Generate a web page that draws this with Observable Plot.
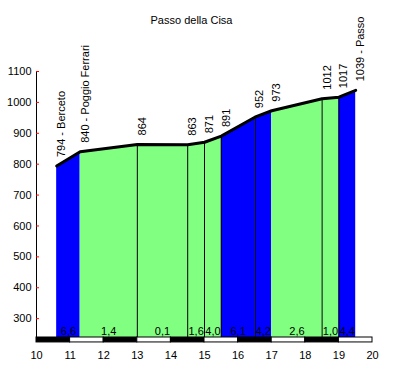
<!DOCTYPE html>
<html>
<head>
<meta charset="utf-8">
<script src="https://cdn.jsdelivr.net/npm/d3@7"></script>
<script src="https://cdn.jsdelivr.net/npm/@observablehq/plot@0.6"></script>
<style>
  body { margin: 0; background: #fff; }
  svg { font-family: "Liberation Sans", Arial, sans-serif; }
</style>
</head>
<body>
<div id="chart"></div>
<script>
const title = "Passo della Cisa";
// profile points (km, elevation m)
const km   = [10.6, 11.3, 13.0, 14.5, 15.0, 15.5, 16.5, 17.0, 18.5, 19.0, 19.5];
const elev = [794, 840, 864, 863, 871, 891, 952, 973, 1012, 1017, 1039];
const names = ["794 - Berceto", "840 - Poggio Ferrari", "864", "863", "871", "891", "952", "973", "1012", "1017", "1039 - Passo"];
// gradient per segment (%) and segment colour
const grades = ["6,6", "1,4", "0,1", "1,6", "4,0", "6,1", "4,2", "2,6", "1,0", "4,4"];
const segColors = ["#0000ff", "#80ff80", "#80ff80", "#80ff80", "#80ff80", "#0000ff", "#0000ff", "#80ff80", "#80ff80", "#0000ff"];
const dividers = [13.0, 14.5, 15.0, 15.5, 16.5, 18.5, 19.0];
const yTicks = [300, 400, 500, 600, 700, 800, 900, 1000, 1100];
const xTicks = [10, 11, 12, 13, 14, 15, 16, 17, 18, 19, 20];
const yBase = 239;
const barBottom = 223;

const pts = km.map((k, i) => ({km: k, elev: elev[i], name: names[i]}));
const segs = grades.map((g, i) => ({x1: km[i], x2: km[i + 1], y1: elev[i], y2: elev[i + 1], grade: g, color: segColors[i]}));
const areaData = segs.flatMap((s, i) => [{km: s.x1, elev: s.y1, seg: i, color: s.color}, {km: s.x2, elev: s.y2, seg: i, color: s.color}]);
const bar = xTicks.slice(0, -1).map((t, i) => ({x1: t, x2: xTicks[i + 1], color: i % 2 === 0 ? "black" : "white"}));

const chart = Plot.plot({
  width: 399,
  height: 370,
  marginLeft: 36,
  marginRight: 27,
  marginTop: 71,
  marginBottom: 33,
  x: {domain: [10, 20]},
  y: {domain: [yBase, 1100]},
  color: {type: "identity"},
  style: {fontFamily: "Liberation Sans, Arial, sans-serif", fontSize: "11px", background: "white"},
  marks: [
    Plot.areaY(areaData, {x: "km", y1: yBase, y2: "elev", z: "seg", fill: "color", curve: "linear"}),
    Plot.ruleX(dividers, {x: d => d, y1: yBase, y2: d => elev[km.indexOf(d)], stroke: "black", strokeWidth: 1}),
    Plot.line(pts, {x: "km", y: "elev", stroke: "black", strokeWidth: 3}),
    Plot.text(pts, {x: "km", y: "elev", text: "name", rotate: -90, textAnchor: "start", dx: 5, dy: -9, fill: "black", fontSize: 11}),
    Plot.rect(bar, {x1: "x1", x2: "x2", y1: barBottom, y2: yBase, fill: "color", stroke: "black", strokeWidth: 1}),
    Plot.text(segs, {x: d => (d.x1 + d.x2) / 2, y: yBase, text: "grade", lineAnchor: "bottom", dy: -3, fill: "black", fontSize: 11}),
    Plot.ruleX([10], {y1: yBase, y2: 1100, stroke: "black"}),
    Plot.axisY(yTicks, {tickSize: 0, tickPadding: 5, tickFormat: d => String(d), label: null, fill: "black", fontSize: 11}),
    Plot.ruleY(yTicks, {x1: 10, x2: 10.09, stroke: "red"}),
    Plot.axisX(xTicks, {tickSize: 0, tickPadding: 14, label: null, fill: "black", fontSize: 11}),
    Plot.text([title], {frameAnchor: "top", dy: -55, dx: -13, text: d => d, fill: "black", fontSize: 11})
  ]
});
document.getElementById("chart").appendChild(chart);
</script>
</body>
</html>
